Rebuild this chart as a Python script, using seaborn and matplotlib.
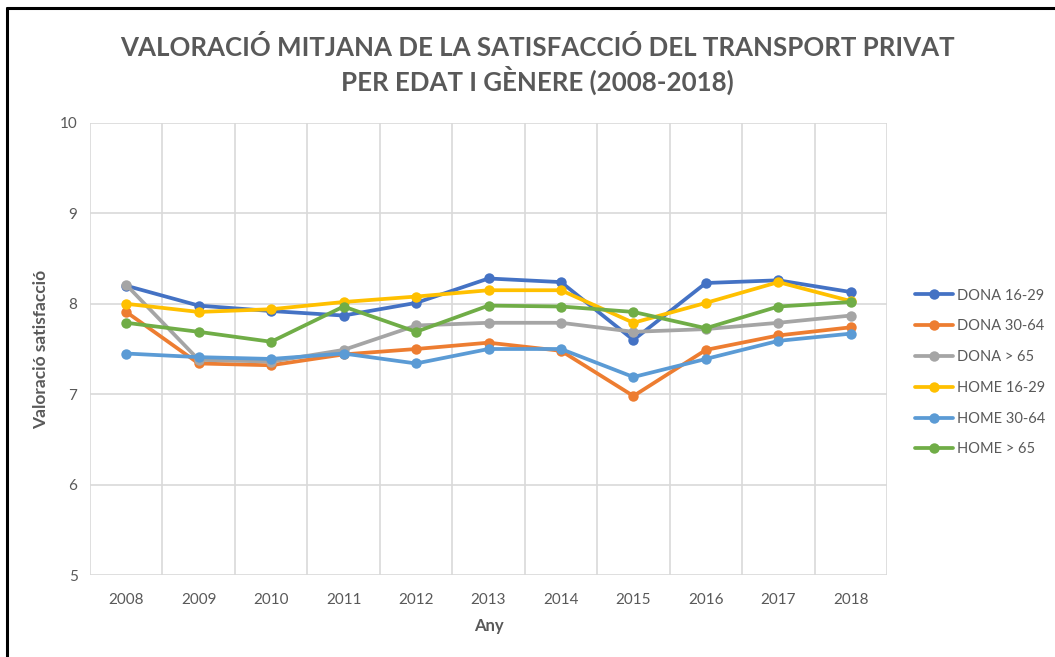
import pandas as pd
import matplotlib
matplotlib.use("Agg")
import matplotlib.pyplot as plt
import seaborn as sns
from matplotlib.lines import Line2D

# =====================================================
# Dades
# =====================================================

anys = [2008, 2009, 2010, 2011, 2012, 2013, 2014, 2015, 2016, 2017, 2018]

dona_16_29 = [8.20, 7.98, 7.92, 7.87, 8.01, 8.28, 8.24, 7.60, 8.23, 8.26, 8.13]
dona_30_64 = [7.91, 7.34, 7.32, 7.44, 7.50, 7.57, 7.48, 6.98, 7.49, 7.65, 7.74]
dona_65 = [8.21, 7.38, 7.36, 7.49, 7.76, 7.79, 7.79, 7.69, 7.72, 7.79, 7.87]
home_16_29 = [8.00, 7.91, 7.94, 8.02, 8.08, 8.15, 8.15, 7.79, 8.01, 8.24, 8.03]
home_30_64 = [7.45, 7.41, 7.39, 7.45, 7.34, 7.50, 7.50, 7.19, 7.39, 7.59, 7.67]
home_65 = [7.79, 7.69, 7.58, 7.97, 7.69, 7.98, 7.97, 7.91, 7.73, 7.97, 8.02]

series = {
    "DONA 16-29": dona_16_29,
    "DONA 30-64": dona_30_64,
    "DONA > 65": dona_65,
    "HOME 16-29": home_16_29,
    "HOME 30-64": home_30_64,
    "HOME > 65": home_65,
}

colors = ["#4472C4", "#ED7D31", "#A5A5A5", "#FFC000", "#5B9BD5", "#70AD47"]

df = pd.concat(
    [pd.DataFrame({"Any": anys, "Valor": vals, "Grup": name}) for name, vals in series.items()],
    ignore_index=True
)

# =====================================================
# Gràfic
# =====================================================

sns.set_style("white")
plt.rcParams["font.family"] = ["Lato", "DejaVu Sans"]
text_col = "#595959"

fig = plt.figure(figsize=(10.55, 6.57), dpi=100)
ax = fig.add_axes([0.0853, 0.1248, 0.7555, 0.688])

sns.lineplot(
    data=df,
    x="Any",
    y="Valor",
    hue="Grup",
    hue_order=list(series.keys()),
    palette=colors,
    marker="o",
    markersize=7.5,
    markeredgewidth=0,
    linewidth=2.7,
    legend=False,
    ax=ax
)

ax.set_xlim(2007.5, 2018.5)
ax.set_ylim(5, 10)
ax.set_xticks(anys)
ax.set_xticklabels([str(a) for a in anys])
ax.set_xticks([a + 0.5 for a in [2007] + anys], minor=True)
ax.set_yticks([5, 6, 7, 8, 9, 10])
ax.grid(False)
ax.grid(True, which="minor", axis="x", color="#d9d9d9", linewidth=1.2)
ax.grid(True, which="major", axis="y", color="#d9d9d9", linewidth=1.2)
ax.set_axisbelow(True)
for s in ax.spines.values():
    s.set_visible(False)
ax.tick_params(which="both", length=0)
ax.tick_params(axis="x", pad=13, labelsize=11, colors=text_col)
ax.tick_params(axis="y", pad=9, labelsize=11, colors=text_col)

ax.set_xlabel("Any", fontsize=12, fontweight="bold", color=text_col, labelpad=8)
ax.set_ylabel("Valoració satisfacció", fontsize=12.5, fontweight="bold", color=text_col, labelpad=8)

fig.text(0.509, 0.928, "VALORACIÓ MITJANA DE LA SATISFACCIÓ DEL TRANSPORT PRIVAT",
         ha="center", va="center", fontsize=18.6, fontweight="bold", color=text_col)
fig.text(0.509, 0.877, "PER EDAT I GÈNERE (2008-2018)",
         ha="center", va="center", fontsize=18.6, fontweight="bold", color=text_col)

handles = [
    Line2D([0], [0], color=c, linewidth=2.7, marker="o", markersize=7.5, markeredgewidth=0)
    for c in colors
]
fig.legend(
    handles,
    list(series.keys()),
    loc="center left",
    bbox_to_anchor=(0.855, 0.433),
    frameon=False,
    fontsize=10.5,
    labelcolor=text_col,
    handlelength=2.6,
    handletextpad=0.3,
    labelspacing=1.15
)

# marc negre (esquerra i dalt)
fig.add_artist(Line2D([0.0062, 0.0062], [0, 0.988], color="black", linewidth=2.2, transform=fig.transFigure))
fig.add_artist(Line2D([0.0062, 1], [0.988, 0.988], color="black", linewidth=2.2, transform=fig.transFigure))

fig.savefig("out.png", dpi=100)
